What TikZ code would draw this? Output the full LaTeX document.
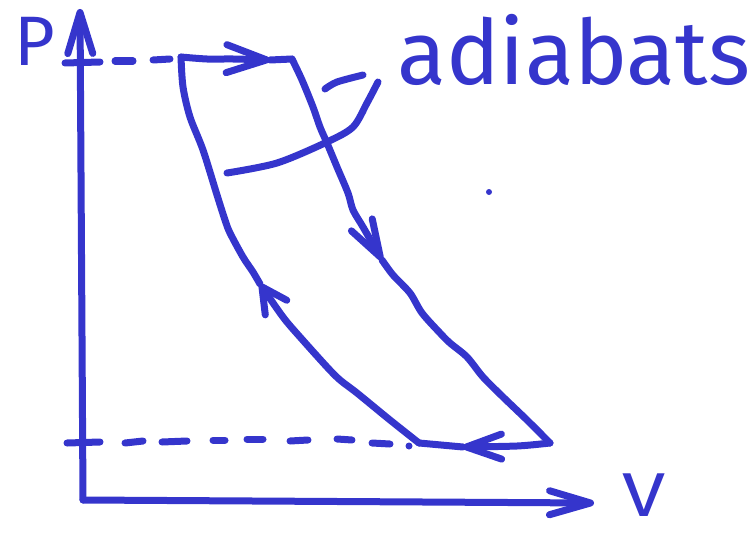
\documentclass[tikz,border=0pt]{standalone}
\usepackage{fontspec}
\setmainfont{Fira Sans}
\usetikzlibrary{arrows.meta}
\definecolor{ink}{RGB}{53,53,204}
\begin{document}
\begin{tikzpicture}[x=1pt,y=-1pt,
  pen/.style={draw=ink, line width=7pt, line cap=round, line join=round},
  arr/.style 2 args={-{Straight Barb[round,length=#1pt,width=#2pt]}},
  lab/.style={anchor=base west, inner sep=0pt, text=ink}]
\path[use as bounding box] (0,0) rectangle (754,535);
% key points
\coordinate (O) at (83,500);
\coordinate (Ytip) at (80,9);
\coordinate (Xtip) at (594,503);
\coordinate (A) at (181,57);
\coordinate (B) at (292,59);
\coordinate (C) at (550,443);
\coordinate (D) at (419,443);
\coordinate (tA) at (270,60);
\coordinate (tB) at (382,260);
\coordinate (tC) at (463,447);
\coordinate (tD) at (260,284);
% labels
\node[lab, font=\fontsize{70}{70}\selectfont] (P) at (14,66) {P};
\node[lab, font=\fontsize{62}{62}\selectfont, xscale=1.25] (V) at (622,516) {V};
\node[lab, font=\fontsize{90}{90}\selectfont] (lbl) at (397,84) {adiabats};
% axes
\draw[pen, arr={41}{25}] (O) -- (Ytip);
\draw[pen, arr={41}{24}] (O) -- (Xtip);
% dashed guides
\draw[pen] (65,63) -- (100,62);
\draw[pen] (115,61) -- (133,61);
\draw[pen] (153,60) -- (170,59);
\draw[pen] (67,443) -- (100,442);
\draw[pen] (125,443) -- (143,441);
\draw[pen] (162,442) -- (187,441);
\draw[pen] (213,440) -- (225,440);
\draw[pen] (247,439) -- (263,439);
\draw[pen] (290,441) -- (308,440);
\draw[pen] (337,439) -- (352,440);
\draw[pen] (372,443) -- (390,444);
\fill[ink] (409,446) circle (3.5pt);
% cycle
\draw[pen, arr={40}{28}] plot[smooth] coordinates {(A) (207,59) (233,59) (tA)};
\draw[pen] (tA) -- (B);
\draw[pen, arr={37}{24}] plot[smooth] coordinates {(B) (302,80) (313,107) (320,127) (327,143) (337,167) (348,193) (353,210) (363,227) (tB)};
\draw[pen] plot[smooth] coordinates {(tB) (393,275) (410,293) (422,313) (440,333) (450,343) (467,357) (483,377) (503,397) (527,420) (C)};
\draw[pen, arr={35}{25}] plot[smooth] coordinates {(C) (517,446) (tC)};
\draw[pen] (tC) -- (D);
\draw[pen, arr={25}{26}] plot[smooth] coordinates {(D) (390,420) (357,393) (340,380) (327,367) (300,337) (283,317) (tD)};
\draw[pen] plot[smooth] coordinates {(tD) (253,272) (243,257) (230,233) (225,220) (217,195) (203,150) (190,117) (183,87) (A)};
% leaders to label
\draw[pen] plot[smooth] coordinates {(227,173) (277,163) (327,142) (353,127) (367,103) (378,82)};
\draw[pen] plot[smooth] coordinates {(325,89) (337,82) (363,75)};
% stray dot
\fill[ink] (489,192) circle (3pt);
\end{tikzpicture}
\end{document}
